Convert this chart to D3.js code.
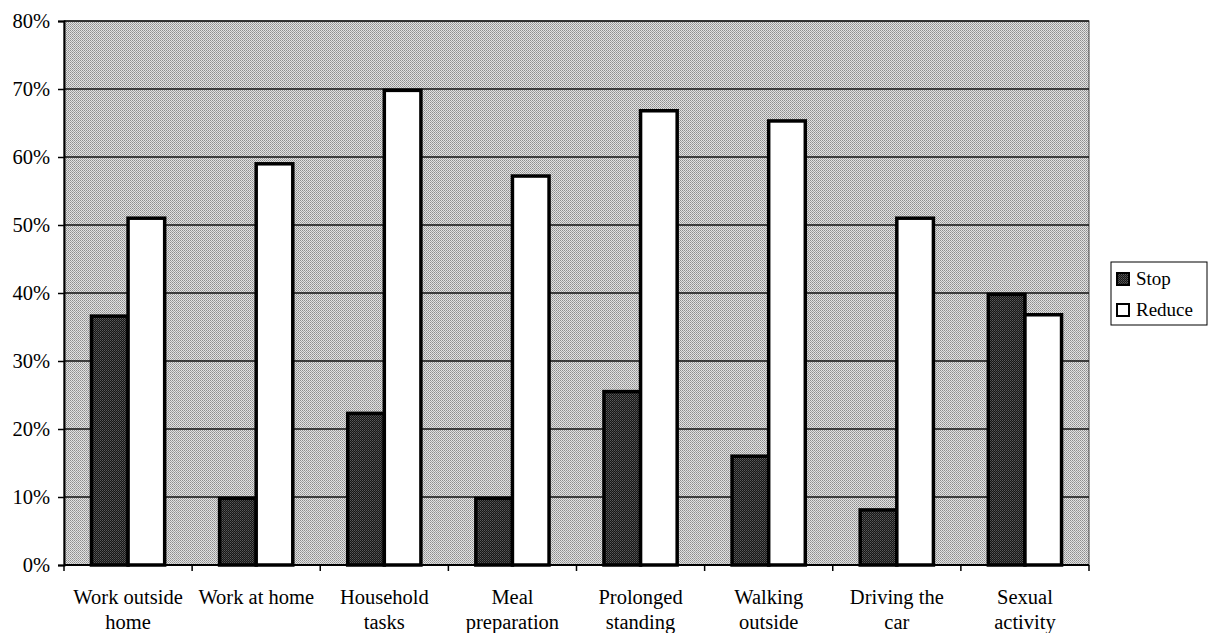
<!DOCTYPE html>
<html>
<head>
<meta charset="utf-8">
<script src="https://cdn.jsdelivr.net/npm/d3@7/dist/d3.min.js"></script>
<style>
  html, body { margin: 0; padding: 0; background: #fff; }
  svg { display: block; }
  text { font-family: "Liberation Serif", "Times New Roman", serif; fill: #000; }
</style>
</head>
<body>
<svg id="chart" width="1219" height="633"></svg>
<script>
// Activities affected and share of respondents who stopped or reduced them
const categories = [
  ["Work outside", "home"],
  ["Work at home"],
  ["Household", "tasks"],
  ["Meal", "preparation"],
  ["Prolonged", "standing"],
  ["Walking", "outside"],
  ["Driving the", "car"],
  ["Sexual", "activity"]
];
const seriesNames = ["Stop", "Reduce"];
const stopValues   = [36.6, 9.8, 22.3, 9.8, 25.5, 16.0, 8.1, 39.8];
const reduceValues = [51.0, 59.0, 69.8, 57.2, 66.8, 65.3, 51.0, 36.8];
const yTicks = [0, 10, 20, 30, 40, 50, 60, 70, 80];

const svg = d3.select("#chart");
const margin = { left: 64, right: 130, top: 21, bottom: 68 };
const W = 1219, H = 633;
const x0 = margin.left, x1 = W - margin.right;
const yTop = margin.top, yBot = H - margin.bottom;
const fontSize = "20.5px";

// Dithered fills for the plot area and the dark series
const defs = svg.append("defs");
const bgPat = defs.append("pattern").attr("id", "bgDither")
  .attr("width", 2).attr("height", 2).attr("patternUnits", "userSpaceOnUse");
bgPat.append("rect").attr("width", 2).attr("height", 2).attr("fill", "#e2e2e2");
bgPat.append("rect").attr("width", 1).attr("height", 1).attr("fill", "#8e8e8e");
bgPat.append("rect").attr("x", 1).attr("y", 1).attr("width", 1).attr("height", 1).attr("fill", "#a4a4a4");

const darkPat = defs.append("pattern").attr("id", "darkDither")
  .attr("width", 2).attr("height", 2).attr("patternUnits", "userSpaceOnUse");
darkPat.append("rect").attr("width", 2).attr("height", 2).attr("fill", "#161616");
darkPat.append("rect").attr("width", 1).attr("height", 1).attr("fill", "#5a5a5a");
darkPat.append("rect").attr("x", 1).attr("y", 1).attr("width", 1).attr("height", 1).attr("fill", "#444");

const x = d3.scaleBand().domain(d3.range(categories.length)).range([x0, x1]).paddingInner(0).paddingOuter(0);
const y = d3.scaleLinear().domain([0, 80]).range([yBot, yTop]);

// Plot background
svg.append("rect")
  .attr("x", x0).attr("y", yTop)
  .attr("width", x1 - x0).attr("height", yBot - yTop)
  .attr("fill", "url(#bgDither)")
  .attr("stroke", "#444").attr("stroke-width", 1);

// Horizontal gridlines
svg.append("g").selectAll("line").data(yTicks.filter(d => d > 0)).join("line")
  .attr("x1", x0).attr("x2", x1)
  .attr("y1", d => y(d)).attr("y2", d => y(d))
  .attr("stroke", "#111").attr("stroke-width", 1.4);

// Bars: each category band holds two bars with a 150% gap
const barW = x.bandwidth() / 3.5;
const gap = x.bandwidth() * 0.75 / 3.5;
const bars = svg.append("g");
const seriesData = [stopValues, reduceValues];
const fills = ["url(#darkDither)", "#ffffff"];
seriesData.forEach((vals, s) => {
  bars.selectAll(null).data(vals).join("rect")
    .attr("x", (d, i) => x(i) + gap + s * barW)
    .attr("y", d => y(d))
    .attr("width", barW)
    .attr("height", d => y(0) - y(d))
    .attr("fill", fills[s])
    .attr("stroke", "#000")
    .attr("stroke-width", 3.5);
});

// Y axis
const yAxis = d3.axisLeft(y).tickValues(yTicks).tickSize(6).tickPadding(8)
  .tickFormat(d => d + "%");
const gy = svg.append("g").attr("transform", `translate(${x0},0)`).call(yAxis);
gy.select(".domain").attr("stroke", "#000").attr("stroke-width", 2);
gy.selectAll(".tick line").attr("stroke", "#000").attr("stroke-width", 1.5);
gy.selectAll(".tick text")
  .style("font-family", "'Liberation Serif', serif")
  .style("font-size", fontSize).attr("dy", "0.33em");

// X axis: ticks at category boundaries
svg.append("line").attr("x1", x0).attr("x2", x1).attr("y1", yBot).attr("y2", yBot)
  .attr("stroke", "#000").attr("stroke-width", 2);
const bounds = d3.range(categories.length + 1).map(i => x0 + i * x.bandwidth());
svg.append("g").selectAll("line").data(bounds).join("line")
  .attr("x1", d => d).attr("x2", d => d)
  .attr("y1", yBot).attr("y2", yBot + 6)
  .attr("stroke", "#000").attr("stroke-width", 1.5);

// Category labels
const lab = svg.append("g").selectAll("text").data(categories).join("text")
  .attr("text-anchor", "middle")
  .style("font-size", fontSize);
lab.each(function (lines, i) {
  const t = d3.select(this);
  lines.forEach((ln, k) => {
    t.append("tspan")
      .attr("x", x(i) + x.bandwidth() / 2)
      .attr("y", 604 + k * 25)
      .text(ln);
  });
});

// Legend
const lg = svg.append("g").attr("transform", "translate(1111,262)");
lg.append("rect").attr("width", 96).attr("height", 63)
  .attr("fill", "#fff").attr("stroke", "#000").attr("stroke-width", 1);
seriesNames.forEach((name, i) => {
  const cy = 17 + i * 31;
  lg.append("rect").attr("x", 6).attr("y", cy - 6).attr("width", 12).attr("height", 12)
    .attr("fill", fills[i]).attr("stroke", "#000").attr("stroke-width", 2);
  lg.append("text").attr("x", 25).attr("y", cy).attr("dy", "0.33em")
    .style("font-size", "19px").text(name);
});
</script>
</body>
</html>
